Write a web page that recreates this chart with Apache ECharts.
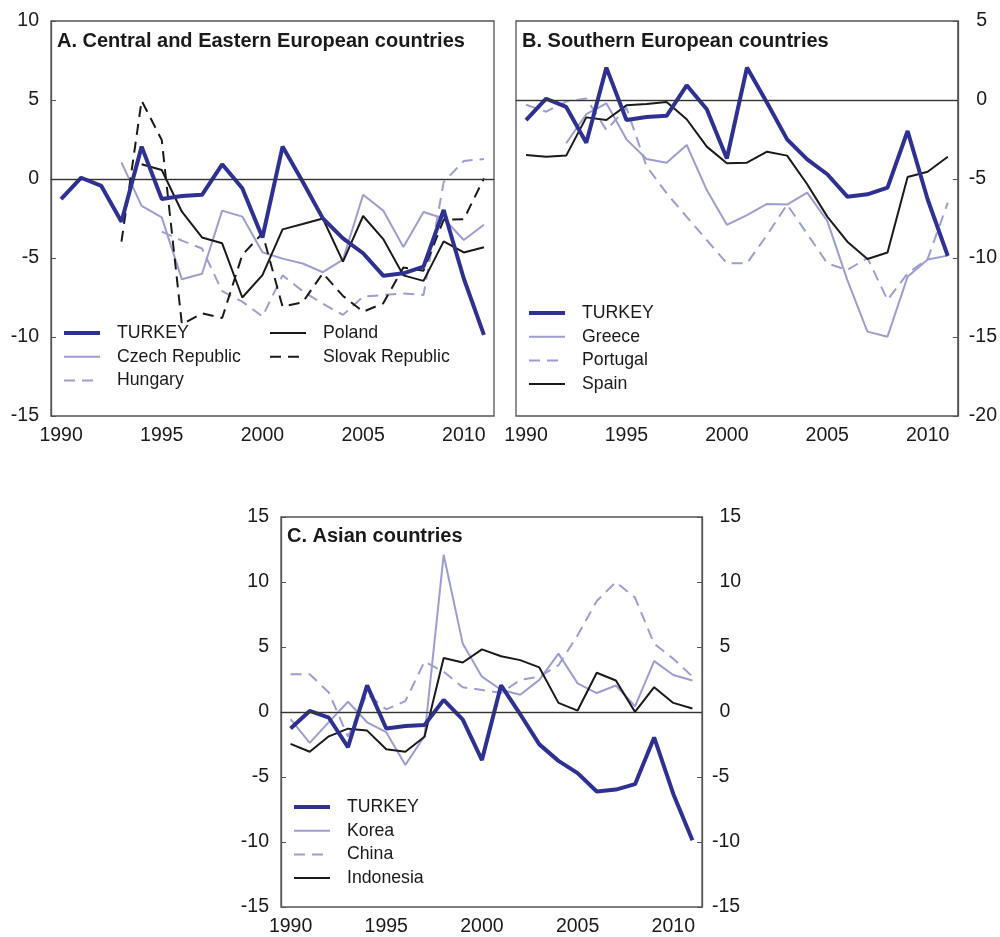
<!DOCTYPE html>
<html>
<head>
<meta charset="utf-8">
<script src="https://cdn.jsdelivr.net/npm/echarts@6/dist/echarts.min.js"></script>
<style>
  html, body { margin: 0; padding: 0; background: #fff; }
  #chart { width: 1000px; height: 937px; }
</style>
</head>
<body>
<div id="chart"></div>
<script>
// years on the x axis
const years = ['1990', '1991', '1992', '1993', '1994', '1995', '1996', '1997', '1998', '1999', '2000',
  '2001', '2002', '2003', '2004', '2005', '2006', '2007', '2008', '2009', '2010', '2011']

// shared by all three panels
const turkey = [-1.27, 0.08, -0.44, -2.7, 2.05, -1.27, -1.08, -1.0, 0.93, -0.59, -3.7,
  2.05, -0.17, -2.49, -3.76, -4.7, -6.12, -5.97, -5.55, -1.96, -6.3, -9.87]

// A. Central and Eastern European countries
const czech = [null, null, null, 1.05, -1.7, -2.43, -6.35, -6.0, -2.0, -2.38, -4.64,
  -5.04, -5.35, -5.9, -5.1, -1.0, -2.0, -4.3, -2.09, -2.5, -3.86, -2.9]
const hungary = [null, null, null, null, null, -3.33, -3.9, -4.4, -7.1, -7.76, -8.7,
  -6.1, -7.1, -7.9, -8.6, -7.45, -7.34, -7.24, -7.34, -0.2, 1.14, 1.27]
const poland = [null, null, null, null, 0.93, 0.57, -2.07, -3.7, -4.07, -7.5, -6.08,
  -3.19, -2.85, -2.5, -5.23, -2.34, -3.8, -6.1, -6.45, -3.95, -4.65, -4.32]
const slovak = [null, null, null, -3.97, 4.96, 2.47, -9.2, -8.5, -8.8, -4.8, -3.44,
  -8.08, -7.8, -5.97, -7.4, -8.4, -7.87, -5.6, -5.8, -2.58, -2.55, 0.04]

// B. Southern European countries
const greece = [null, null, -2.74, -0.9, -0.21, -2.49, -3.73, -3.97, -2.85, -5.7, -7.9,
  -7.28, -6.58, -6.62, -5.86, -7.65, -11.4, -14.66, -14.98, -11.18, -10.1, -9.85]
const portugal = [-0.3, -0.74, -0.1, 0.1, -1.9, -0.5, -4.2, -5.9, -7.4, -8.86, -10.34,
  -10.34, -8.54, -6.62, -8.47, -10.34, -10.76, -10.0, -12.66, -10.97, -10.05, -6.5]
const spain = [-3.48, -3.59, -3.52, -1.1, -1.27, -0.34, -0.25, -0.13, -1.22, -2.95, -4.0,
  -3.97, -3.27, -3.52, -5.33, -7.38, -8.97, -10.06, -9.65, -4.87, -4.54, -3.59]

// C. Asian countries
const korea = [-0.55, -2.37, -0.78, 0.79, -0.79, -1.55, -4.07, -1.85, 12.09, 5.25, 2.72,
  1.71, 1.33, 2.47, 4.49, 2.2, 1.46, 2.04, 0.44, 3.91, 2.85, 2.42]
const china = [2.9, 2.9, 1.5, -1.9, 1.4, 0.2, 0.84, 3.88, 3.1, 1.9, 1.7,
  1.46, 2.47, 2.72, 3.6, 5.9, 8.54, 9.99, 8.8, 5.25, 4.1, 2.72]
const indonesia = [-2.45, -3.06, -1.87, -1.28, -1.43, -2.87, -3.06, -1.9, 4.16, 3.81, 4.82,
  4.29, 3.99, 3.43, 0.7, 0.11, 3.02, 2.42, 0.01, 1.91, 0.7, 0.27]

const font = 'Liberation Sans, Arial, sans-serif'
const textColor = '#1a1a1a'
const frameColor = '#555'
const dark = '#2e3192'
const light = '#9d9dd3'
const black = '#1a1a1a'
const dash = [11, 7]

const styles = {
  turkey: { color: dark, width: 4, type: 'solid' },
  lightSolid: { color: light, width: 2, type: 'solid' },
  lightDash: { color: light, width: 2, type: dash },
  blackSolid: { color: black, width: 2, type: 'solid' },
  blackDash: { color: black, width: 2, type: dash }
}

const zeroLine = {
  silent: true,
  symbol: 'none',
  label: { show: false },
  lineStyle: { color: '#333', width: 1, type: 'solid' },
  data: [{ yAxis: 0 }]
}

const makeSeries = (name, data, style, xi, yi, withZero) => ({
  name,
  type: 'line',
  data,
  xAxisIndex: xi,
  yAxisIndex: yi,
  symbol: 'none',
  connectNulls: false,
  lineStyle: style,
  itemStyle: { color: style.color },
  markLine: withZero ? zeroLine : undefined,
  z: name === 'TURKEY' ? 3 : 2
})

const makeX = (gi) => ({
  type: 'category',
  gridIndex: gi,
  data: years,
  boundaryGap: true,
  axisLine: { lineStyle: { color: frameColor, width: 1.3 } },
  axisTick: { inside: true, length: 5, interval: 0, lineStyle: { color: frameColor } },
  axisLabel: { interval: 4, margin: 10, fontSize: 19.5, fontFamily: font, color: textColor },
  splitLine: { show: false }
})

// right-hand labels: digits line up, minus sign hangs to the left
const rightLabel = (margin) => ({
  margin,
  align: 'left',
  fontSize: 19.5,
  fontFamily: font,
  color: textColor,
  formatter: (v) => (v < 0 ? String(v) : '{p|' + v + '}'),
  rich: { p: { padding: [0, 0, 0, 7.5], fontSize: 19.5, fontFamily: font, color: textColor } }
})

const makeY = (gi, min, max, position, label) => ({
  type: 'value',
  gridIndex: gi,
  min,
  max,
  interval: 5,
  position,
  axisLine: { show: true, lineStyle: { color: frameColor, width: 1.3 } },
  axisTick: { show: true, inside: true, length: 5, lineStyle: { color: frameColor } },
  axisLabel: label,
  splitLine: { show: false }
})

const leftLabel = { margin: 12, fontSize: 19.5, fontFamily: font, color: textColor }

// legend entries keep the series' own line width
const legendItem = (name) => ({
  name,
  lineStyle: { width: name === 'TURKEY' ? 4 : 2 }
})

const makeLegend = (names, left, top) => ({
  data: names.map(legendItem),
  orient: 'vertical',
  left,
  top,
  padding: 0,
  itemWidth: 36,
  itemHeight: 14,
  itemGap: 5.7,
  selectedMode: false,
  itemStyle: { opacity: 0 },
  textStyle: { fontSize: 17.7, lineHeight: 18, fontFamily: font, color: textColor, padding: [0, 0, 0, 12] }
})

const makeTitle = (text, left, top) => ({
  text,
  left,
  top,
  padding: 0,
  textStyle: { fontSize: 20, fontWeight: 'bold', fontFamily: font, color: textColor }
})

const gridBox = { show: true, borderColor: frameColor, borderWidth: 1.3, containLabel: false }

const option = {
  animation: false,
  backgroundColor: '#fff',
  title: [
    makeTitle('A. Central and Eastern European countries', 57, 31),
    makeTitle('B. Southern European countries', 522, 31),
    makeTitle('C. Asian countries', 287, 526)
  ],
  legend: [
    makeLegend(['TURKEY', 'Czech Republic', 'Hungary'], 62, 324),
    makeLegend(['Poland', 'Slovak Republic'], 269, 324),
    makeLegend(['TURKEY', 'Greece', 'Portugal', 'Spain'], 527, 304),
    makeLegend(['TURKEY', 'Korea', 'China', 'Indonesia'], 292, 798)
  ],
  grid: [
    { ...gridBox, left: 51, top: 21, width: 443, height: 395 },
    { ...gridBox, left: 516, top: 21, width: 443, height: 395 },
    { ...gridBox, left: 281, top: 517, width: 421, height: 395 }
  ],
  xAxis: [makeX(0), makeX(1), makeX(2)],
  yAxis: [
    makeY(0, -15, 10, 'left', leftLabel),
    makeY(1, -20, 5, 'right', rightLabel(11)),
    makeY(2, -15, 15, 'left', leftLabel),
    makeY(2, -15, 15, 'right', rightLabel(10))
  ],
  series: [
    makeSeries('Czech Republic', czech, styles.lightSolid, 0, 0, true),
    makeSeries('Hungary', hungary, styles.lightDash, 0, 0),
    makeSeries('Poland', poland, styles.blackSolid, 0, 0),
    makeSeries('Slovak Republic', slovak, styles.blackDash, 0, 0),
    makeSeries('TURKEY', turkey, styles.turkey, 0, 0),

    makeSeries('Greece', greece, styles.lightSolid, 1, 1, true),
    makeSeries('Portugal', portugal, styles.lightDash, 1, 1),
    makeSeries('Spain', spain, styles.blackSolid, 1, 1),
    makeSeries('TURKEY', turkey, styles.turkey, 1, 1),

    makeSeries('Korea', korea, styles.lightSolid, 2, 2, true),
    makeSeries('China', china, styles.lightDash, 2, 2),
    makeSeries('Indonesia', indonesia, styles.blackSolid, 2, 2),
    makeSeries('TURKEY', turkey, styles.turkey, 2, 2)
  ]
}

const chart = echarts.init(document.getElementById('chart'))
chart.setOption(option)
</script>
</body>
</html>
